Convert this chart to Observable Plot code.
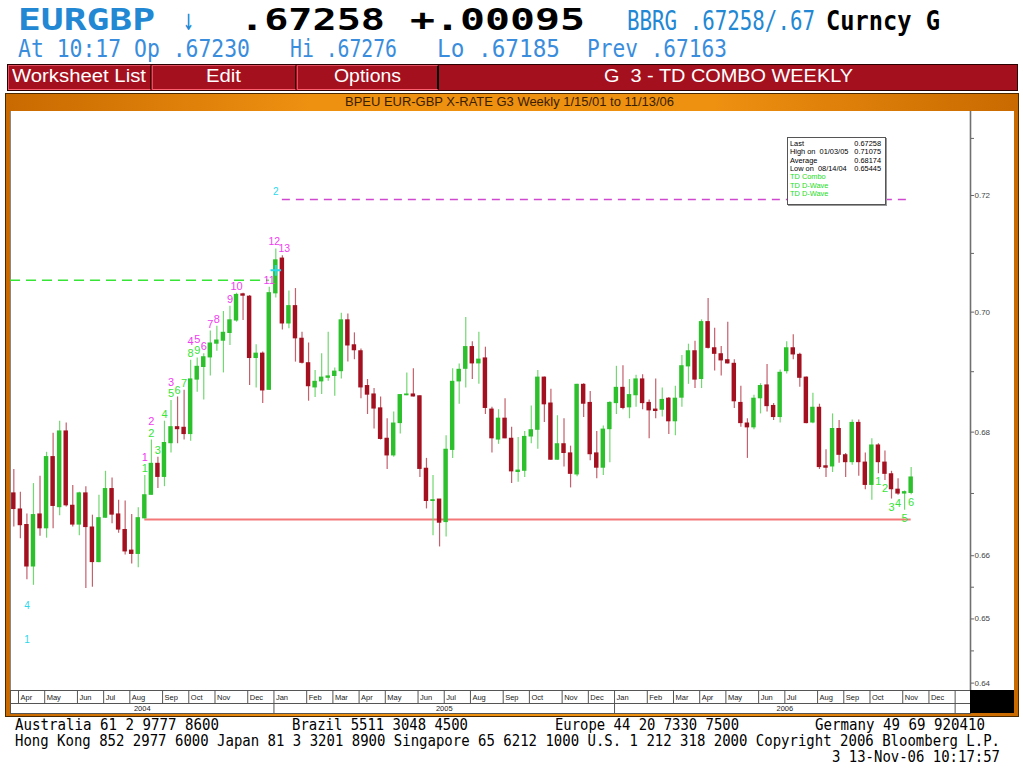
<!DOCTYPE html>
<html><head><meta charset="utf-8">
<script src="https://cdn.jsdelivr.net/npm/d3@7"></script>
<script src="https://cdn.jsdelivr.net/npm/@observablehq/plot@0.6"></script>
<style>
html,body{margin:0;padding:0;background:#fff;width:1023px;height:777px;overflow:hidden;position:relative;font-family:"Liberation Sans",Arial,sans-serif}
.abs{position:absolute;white-space:pre;line-height:0.8;transform-origin:0 0}
.box{position:absolute;box-sizing:border-box}
svg{display:block}
</style></head><body>
<div class="box" style="left:7px;top:64px;width:1011px;height:27px;background:#a5101f;border:1px solid #2a0000"></div>
<div class="box" style="left:8px;top:65px;width:143px;height:25px;border:1px solid #e05060;border-right-color:#300;border-bottom-color:#ff6070"></div>
<div class="box" style="left:152px;top:65px;width:144px;height:25px;border:1px solid #e05060;border-right-color:#300;border-bottom-color:#ff6070"></div>
<div class="box" style="left:297px;top:65px;width:142px;height:25px;border:1px solid #e05060;border-right:2px solid #000;border-bottom-color:#ff6070"></div>
<div class="box" style="left:5px;top:93px;width:1014px;height:624px;background:linear-gradient(90deg,#c86a00,#ee9010 30%,#ee9010 70%,#c86a00);border:1px solid #4a2800"></div>
<div class="box" style="left:10px;top:111px;width:1004px;height:602px;background:#fff;border-left:1px solid #888"></div>
<div id="chart" class="box" style="left:10px;top:111px"></div>
<div id="mband" class="box" style="left:10px;top:690px"></div>
<div id="yband" class="box" style="left:10px;top:703px"></div>
<div class="box" style="left:970px;top:690px;width:44px;height:23px;background:#000"></div>
<div id="legend" class="box" style="left:787px;top:137px;width:99px;height:68px;background:#fff;border:1px solid #555;box-shadow:1px 1px 0 #999"></div>
<script>
// ---- data (weekly EUR-GBP bars, first week 2004-03-29) ----
const weekStart = "2004-03-29";
const openP = [0.6700,0.6674,0.6649,0.6583,0.6666,0.6644,0.6759,0.6678,0.6801,0.6680,
0.6650,0.6700,0.6645,0.6590,0.6661,0.6707,0.6666,0.6641,0.6608,0.6603,
0.6660,0.6698,0.6748,0.6727,0.6782,0.6808,0.6807,0.6797,0.6887,0.6908,
0.6924,0.6947,0.6952,0.6965,0.6986,0.7030,0.7026,0.6923,0.6930,0.6870,
0.7032,0.7091,0.6981,0.7010,0.6955,0.6914,0.6874,0.6884,0.6890,0.6893,
0.6901,0.6986,0.6944,0.6934,0.6876,0.6862,0.6839,0.6789,0.6762,0.6815,
0.6861,0.6862,0.6859,0.6740,0.6688,0.6690,0.6654,0.6771,0.6884,0.6905,
0.6941,0.6914,0.6922,0.6837,0.6788,0.6822,0.6789,0.6735,0.6737,0.6793,
0.6804,0.6890,0.6847,0.6755,0.6780,0.6765,0.6731,0.6878,0.6848,0.6765,
0.6742,0.6805,0.6848,0.6873,0.6841,0.6861,0.6887,0.6848,0.6837,0.6837,
0.6855,0.6818,0.6857,0.6909,0.6934,0.6888,0.6983,0.6939,0.6929,0.6919,
0.6913,0.6848,0.6814,0.6808,0.6856,0.6877,0.6843,0.6825,0.6901,0.6939,
0.6928,0.6890,0.6816,0.6840,0.6744,0.6744,0.6805,0.6762,0.6751,0.6815,
0.6750,0.6714,0.6778,0.6750,0.6731,0.6706,0.6700,0.6701];
const highP = [0.6739,0.6702,0.6667,0.6716,0.6728,0.6767,0.6798,0.6818,0.6815,0.6713,
0.6702,0.6711,0.6665,0.6697,0.6736,0.6725,0.6689,0.6688,0.6666,0.6677,
0.6729,0.6787,0.6759,0.6818,0.6852,0.6858,0.6869,0.6919,0.6923,0.6930,
0.6968,0.6976,0.7001,0.7010,0.7032,0.7032,0.7028,0.6945,0.6933,0.7042,
0.71075,0.7096,0.7036,0.7040,0.6966,0.6948,0.6902,0.6930,0.6966,0.6906,
0.6998,0.6997,0.6965,0.6938,0.6887,0.6872,0.6858,0.6822,0.6833,0.6862,
0.6898,0.6905,0.6860,0.6757,0.6729,0.6690,0.6794,0.6905,0.6913,0.6991,
0.6950,0.6966,0.6941,0.6841,0.6837,0.6855,0.6808,0.6791,0.6801,0.6843,
0.6902,0.6891,0.6871,0.6827,0.6822,0.6777,0.6879,0.6880,0.6867,0.6801,
0.6810,0.6850,0.6909,0.6910,0.6887,0.6894,0.6895,0.6853,0.6888,0.6873,
0.6857,0.6876,0.6927,0.6946,0.6951,0.6987,0.7023,0.6973,0.6942,0.6983,
0.6920,0.6876,0.6822,0.6861,0.6880,0.6912,0.6847,0.6903,0.6950,0.6962,
0.6931,0.6891,0.6864,0.6846,0.6771,0.6830,0.6819,0.6765,0.6820,0.6820,
0.6766,0.6789,0.6781,0.6769,0.6736,0.6724,0.6704,0.6742];
const lowP = [0.6646,0.6627,0.6562,0.6553,0.6631,0.6628,0.6643,0.6664,0.6678,0.6646,
0.6632,0.6548,0.6550,0.6589,0.6660,0.6651,0.6636,0.6601,0.6587,0.6581,
0.6659,0.6697,0.6708,0.6711,0.6766,0.6781,0.6787,0.6785,0.6866,0.6853,
0.6893,0.6934,0.6898,0.6944,0.6983,0.6986,0.6877,0.6873,0.6847,0.6869,
0.7024,0.6970,0.6972,0.6916,0.6913,0.6851,0.6857,0.6862,0.6884,0.6859,
0.6888,0.6916,0.6920,0.6855,0.6829,0.6805,0.6787,0.6739,0.6759,0.6797,
0.6860,0.6858,0.6726,0.6675,0.6632,0.6614,0.6630,0.6757,0.6846,0.6873,
0.6887,0.6879,0.6829,0.6766,0.6780,0.6789,0.6716,0.6718,0.6726,0.6781,
0.6772,0.6816,0.6754,0.6754,0.6743,0.6709,0.6727,0.6824,0.6753,0.6724,
0.6729,0.6750,0.6829,0.6837,0.6822,0.6841,0.6837,0.6789,0.6822,0.6825,
0.6796,0.6794,0.6841,0.6879,0.6872,0.6872,0.6938,0.6901,0.6893,0.6913,
0.6839,0.6808,0.6757,0.6804,0.6830,0.6833,0.6819,0.6815,0.6896,0.6920,
0.6874,0.6814,0.6814,0.6739,0.6726,0.6734,0.6749,0.6726,0.6746,0.6728,
0.6706,0.6689,0.6732,0.6721,0.6691,0.6697,0.6673,0.6698];
const closeP = [0.6675,0.6649,0.6583,0.6665,0.6644,0.6759,0.6680,0.6801,0.6681,0.6650,
0.6700,0.6646,0.6590,0.6660,0.6707,0.6666,0.6642,0.6607,0.6603,0.6660,
0.6697,0.6748,0.6727,0.6782,0.6808,0.6805,0.6797,0.6887,0.6908,0.6924,
0.6947,0.6952,0.6965,0.6986,0.7029,0.7028,0.6923,0.6930,0.6869,0.7032,
0.7088,0.6981,0.7010,0.6956,0.6915,0.6876,0.6883,0.6890,0.6892,0.6900,
0.6986,0.6944,0.6936,0.6874,0.6862,0.6839,0.6789,0.6762,0.6814,0.6861,
0.6862,0.6859,0.6740,0.6688,0.6689,0.6653,0.6771,0.6883,0.6903,0.6941,
0.6914,0.6920,0.6840,0.6790,0.6822,0.6790,0.6736,0.6737,0.6792,0.6803,
0.6890,0.6846,0.6755,0.6780,0.6766,0.6732,0.6878,0.6847,0.6764,0.6742,
0.6804,0.6848,0.6873,0.6840,0.6861,0.6887,0.6848,0.6836,0.6835,0.6853,
0.6818,0.6855,0.6909,0.6934,0.6887,0.6983,0.6940,0.6930,0.6919,0.6914,
0.6851,0.6815,0.6808,0.6855,0.6876,0.6843,0.6825,0.6898,0.6939,0.6929,
0.6890,0.6815,0.6840,0.6743,0.6742,0.6805,0.6763,0.6751,0.6815,0.6751,
0.6714,0.6778,0.6751,0.6732,0.6707,0.6700,0.6702,0.67258];

// TD counts (bar index -> label)
const seqBars = [20,21,24,27,28,29,30,31,33,34,39,40,41];
const seqLabels = ["1","2","3","4","5","6","7","8","9","10","11","12","13"];
const setupBars = [20,21,22,23,24,25,26,27,28];
const setupLabels = ["1","2","3","4","5","6","7","8","9"];
const buyBars = [132,133,134,135,136,137];
const buyLabels = ["1","2","3","4","5","6"];
const dwaveBars = [2,2,40];
const dwaveValues = [0.6468,0.6521,0.7207];
const dwaveLabels = ["1","4","2"];
const markBar = 40, markValue = 0.7071;
// horizontal levels
const supportLevel = 0.6658, supportFrom = 20, supportTo = 137;
const resistLevel = 0.7193, resistFrom = 41, resistTo = 137;
const greenLevel = 0.7054, greenTo = 39;
// axis
const yLabelTicks = [0.64,0.65,0.66,0.68,0.70,0.72];
const yMinorTicks = [0.645,0.655,0.67,0.69,0.71,0.73];
const monthNames = ["Jan","Feb","Mar","Apr","May","Jun","Jul","Aug","Sep","Oct","Nov","Dec"];
const yearLabels = ["2004","2005","2006"];

// ---- build ----
const t0 = new Date(weekStart + "T00:00:00Z");
const dateOf = i => d3.utcDay.offset(t0, 7 * i);
const bars = openP.map((o, i) => ({i, date: dateOf(i), o, h: highP[i], l: lowP[i], c: closeP[i], up: closeP[i] >= o}));
const xDomain = [d3.utcHour.offset(t0, -85), d3.utcHour.offset(t0, 24538)];
const W = 1004, MR = 44;
const xOpt = {type: "utc", domain: xDomain, axis: null};
const UPB = "#2cc02c", DNB = "#a3101f", UPW = "#72d872", DNW = "#c4606c";
const MAG = "#f03cf0", GRN = "#36e436", CYN = "#2cd8ec";
const half = d => d3.utcHour.offset(d, -57), half2 = d => d3.utcHour.offset(d, 57);

const seq = seqBars.map((b, k) => ({b, t: seqLabels[k], stacked: setupBars.includes(b)}));
const setup = setupBars.map((b, k) => ({b, t: setupLabels[k]}));
const buy = buyBars.map((b, k) => ({b, t: buyLabels[k]}));
const dwave = dwaveBars.map((b, k) => ({b, v: dwaveValues[k], t: dwaveLabels[k]}));
const lbl = {x: d => dateOf(d.b), text: "t", fontSize: 11};

const chart = Plot.plot({
  width: W, height: 579, marginLeft: 0, marginRight: MR, marginTop: 0, marginBottom: 0,
  style: {fontFamily: "Liberation Sans, Arial, sans-serif", background: "transparent", overflow: "visible"},
  x: xOpt,
  y: {type: "log", domain: [0.63886, 0.73476], axis: null},
  marks: [
    Plot.ruleY([greenLevel], {x1: xDomain[0], x2: dateOf(greenTo), stroke: GRN, strokeWidth: 1.4, strokeDasharray: "10,6"}),
    Plot.ruleY([resistLevel], {x1: dateOf(resistFrom), x2: dateOf(resistTo), stroke: "#d048d0", strokeWidth: 1.5, strokeDasharray: "8,6"}),
    Plot.ruleY([supportLevel], {x1: dateOf(supportFrom), x2: dateOf(supportTo), stroke: "#f47878", strokeWidth: 2}),
    Plot.ruleX(bars, {x: "date", y1: "l", y2: "h", stroke: d => d.up ? UPW : DNW, strokeWidth: 1.2}),
    Plot.rect(bars, {x1: d => half(d.date), x2: d => half2(d.date), y1: "o", y2: "c", fill: d => d.up ? UPB : DNB, insetTop: -0.6, insetBottom: -0.6}),
    Plot.text(setup, {...lbl, y: d => highP[d.b], dy: -7, fill: GRN}),
    Plot.text(seq.filter(d => d.stacked), {...lbl, y: d => highP[d.b], dy: -18.5, fill: MAG}),
    Plot.text(seq.filter(d => !d.stacked && d.b !== 40 && d.b !== 41), {...lbl, y: d => highP[d.b], dy: -7, fill: MAG}),
    Plot.text(seq.filter(d => d.b === 40), {...lbl, y: d => highP[d.b], dy: -7, dx: -1.5, fontSize: 10.5, fill: MAG}),
    Plot.text(seq.filter(d => d.b === 41), {...lbl, y: d => highP[d.b], dy: -7, dx: 2, fontSize: 10.5, fill: MAG}),
    Plot.text(buy, {...lbl, y: d => lowP[d.b], dy: 8, fill: GRN}),
    Plot.text(dwave, {...lbl, y: "v", fill: CYN, fontSize: 10}),
    Plot.dot([markValue], {x: dateOf(markBar), y: d => d, symbol: "plus", r: 3.5, stroke: CYN, strokeWidth: 2}),
    Plot.ruleX([xDomain[1]], {stroke: "#707070", strokeWidth: 1.6}),
    Plot.axisY({anchor: "right", ticks: yLabelTicks, tickSize: 3, tickPadding: 1, tickFormat: d3.format(".2f"), fontSize: 8, color: "#444", stroke: "#666"}),
    Plot.axisY({anchor: "right", ticks: yMinorTicks, tickSize: 3, tickFormat: () => "", stroke: "#666"})
  ]
});
document.getElementById("chart").appendChild(chart);

// month / year bands
const allWeeks = d3.range(-1, 160).map(dateOf).filter(d => d >= xDomain[0] && d <= xDomain[1]);
const firstOfMonth = allWeeks.filter((d, k) => k > 0 && d.getUTCMonth() !== allWeeks[k - 1].getUTCMonth());
const sep = d => d3.utcHour.offset(d, -48);
const monthSeps = firstOfMonth.map(d => ({d, s: sep(d), label: monthNames[d.getUTCMonth()], yr: d.getUTCFullYear()}));
const lastLabelDate = new Date("2007-01-01T00:00:00Z");
const mband = Plot.plot({
  width: W, height: 13, marginLeft: 0, marginRight: MR, marginTop: 0, marginBottom: 0,
  style: {fontFamily: "Liberation Sans, Arial, sans-serif", background: "transparent", overflow: "visible"},
  x: xOpt,
  marks: [
    Plot.frame({stroke: "#555"}),
    Plot.ruleX(monthSeps, {x: "s", stroke: "#555"}),
    Plot.text(monthSeps.filter(m => m.d < lastLabelDate), {x: "s", text: "label", frameAnchor: "middle", textAnchor: "start", dx: 2, dy: 1, fontSize: 7.5, fill: "#222"})
  ]
});
document.getElementById("mband").appendChild(mband);
const yearSeps = monthSeps.filter(m => m.d.getUTCMonth() === 0).map(m => m.s);
const bounds = [xDomain[0], ...yearSeps];
const yearCells = yearLabels.map((t, k) => ({t, mid: new Date((+bounds[k] + +bounds[k + 1]) / 2)}));
const yband = Plot.plot({
  width: W, height: 10, marginLeft: 0, marginRight: MR, marginTop: 0, marginBottom: 0,
  style: {fontFamily: "Liberation Sans, Arial, sans-serif", background: "transparent", overflow: "visible"},
  x: xOpt,
  marks: [
    Plot.frame({stroke: "#555"}),
    Plot.ruleX(yearSeps, {stroke: "#555"}),
    Plot.text(yearCells, {x: "mid", text: "t", frameAnchor: "middle", fontSize: 7.5, fill: "#222", dy: 0.5})
  ]
});
document.getElementById("yband").appendChild(yband);

// ---- texts ----
function place(parent, text, x, capTop, capH, w, o) {
  const fam = o.family || "DejaVu Sans Mono";
  const dj = fam.startsWith("DejaVu");
  const capRatio = dj ? 0.729 : 0.716;
  const L = 0.8;
  const topRatio = dj ? (L - 1.164) / 2 + 0.199 : (L - 1.117) / 2 + 0.189;
  const size = capH / capRatio;
  const s = document.createElement("div");
  s.className = "abs";
  s.textContent = text;
  Object.assign(s.style, {left: x + "px", top: (capTop - topRatio * size) + "px", fontSize: size + "px",
    color: o.color || "#000", fontWeight: o.weight || "normal", fontFamily: fam});
  (parent || document.body).appendChild(s);
  if (w) { const r = s.getBoundingClientRect(); s.style.transform = `scaleX(${w / r.width})`; }
  if (o.center) { const r = s.getBoundingClientRect(); s.style.left = (o.center - r.width / 2) + "px"; }
  return s;
}
const BLUE = "#2288d4", BLUE2 = "#3a8ddc";
place(null, "EURGBP", 18, 9, 22, 137, {color: BLUE, weight: "bold"});
place(null, "\u2193", 183, 9, 22, 11, {color: BLUE});
place(null, ".67258", 240, 9, 22, 145, {weight: "bold"});
place(null, "+.00095", 410, 9, 22, 175, {weight: "bold"});
place(null, "BBRG .67258/.67", 627, 11, 19, 188, {color: BLUE});
place(null, "Curncy G", 826, 11, 19, 114, {weight: "bold"});
place(null, "At 10:17 Op .67230", 18, 39, 18, 232, {color: BLUE2});
place(null, "Hi .67276", 290, 39, 18, 107, {color: BLUE2});
place(null, "Lo .67185", 437, 39, 18, 123, {color: BLUE2});
place(null, "Prev .67163", 587, 39, 18, 140, {color: BLUE2});
const sans = {family: "Liberation Sans", color: "#fff"};
place(null, "Worksheet List", 12, 70, 13, 134, sans);
place(null, "Edit", 0, 70, 13, 35, Object.assign({center: 223}, sans));
place(null, "Options", 0, 70, 13, 67, Object.assign({center: 367}, sans));
place(null, "G  3 - TD COMBO WEEKLY", 0, 70, 13, 249, Object.assign({center: 728}, sans));
place(null, "BPEU EUR-GBP X-RATE G3 Weekly 1/15/01 to 11/13/06", 0, 98, 8.5, 329, {family: "Liberation Sans", color: "#3a2000", center: 509});
// footer
const ft = {color: "#000"};
place(null, "Australia 61 2 9777 8600", 15, 719, 11, 204, ft);
place(null, "Brazil 5511 3048 4500", 292, 719, 11, 176, ft);
place(null, "Europe 44 20 7330 7500", 555, 719, 11, 184, ft);
place(null, "Germany 49 69 920410", 815, 719, 11, 170, ft);
place(null, "Hong Kong 852 2977 6000 Japan 81 3 3201 8900 Singapore 65 6212 1000 U.S. 1 212 318 2000 Copyright 2006 Bloomberg L.P.", 15, 735, 11, 985, ft);
place(null, "3 13-Nov-06 10:17:57", 832, 751, 11, 168, ft);
// legend box
const lg = document.getElementById("legend");
const rows = [["Last", "0.67258"], ["High on  01/03/05", "0.71075"], ["Average", "0.68174"], ["Low on  08/14/04", "0.65445"], ["TD Combo"], ["TD D-Wave"], ["TD D-Wave"]];
rows.forEach((r, k) => {
  const col = r.length > 1 ? "#000" : "#22dd22";
  place(lg, r[0], 2, 3 + k * 8.4, 5.3, null, {family: "Liberation Sans", color: col});
  if (r[1]) { const b = place(lg, r[1], 0, 3 + k * 8.4, 5.3, null, {family: "Liberation Sans", color: col}); b.style.left = ""; b.style.right = "4px"; }
});
</script>
</body></html>
